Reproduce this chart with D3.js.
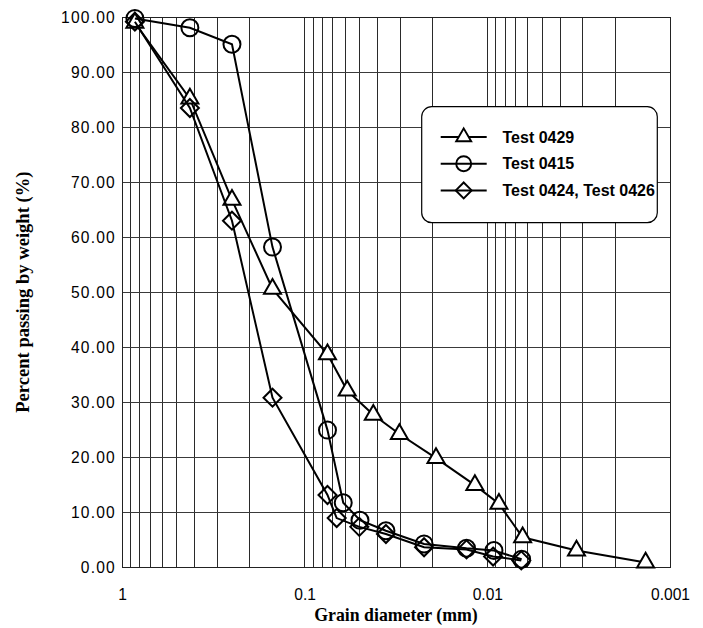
<!DOCTYPE html>
<html>
<head>
<meta charset="utf-8">
<script src="https://cdn.jsdelivr.net/npm/d3@7"></script>
<style>
  html, body { margin: 0; padding: 0; background: #fff; }
  svg { display: block; }
</style>
</head>
<body>
<svg id="chart" width="703" height="628"></svg>
<script>
// Grain-size distribution curves (percent passing vs. grain diameter)

// Test 0429
const test0429Diam = [0.85, 0.425, 0.25, 0.15, 0.075, 0.0585, 0.0421, 0.0303, 0.0191, 0.0117, 0.00864, 0.00641, 0.00325, 0.00136];
const test0429Pass = [99.0, 85.2, 66.8, 50.6, 38.7, 32.1, 27.7, 24.2, 19.8, 14.9, 11.5, 5.4, 3.0, 0.8];

// Test 0415
const test0415Diam = [0.85, 0.425, 0.25, 0.15, 0.075, 0.0615, 0.0498, 0.0359, 0.0222, 0.0130, 0.0092, 0.00649];
const test0415Pass = [99.8, 98.1, 95.1, 58.2, 24.9, 11.7, 8.5, 6.6, 4.2, 3.4, 3.0, 1.4];

// Test 0424, Test 0426
const test0424Diam = [0.85, 0.425, 0.25, 0.15, 0.075, 0.0668, 0.0502, 0.0359, 0.0222, 0.0130, 0.0093, 0.00652];
const test0424Pass = [99.2, 83.5, 63.0, 30.8, 13.1, 8.9, 7.3, 6.0, 3.6, 3.2, 1.9, 1.2];

const seriesNames = ["Test 0429", "Test 0415", "Test 0424, Test 0426"];
const xTickValues = [1, 0.1, 0.01, 0.001];
const xTickLabels = ["1", "0.1", "0.01", "0.001"];
const yTickValues = [0, 10, 20, 30, 40, 50, 60, 70, 80, 90, 100];

const svg = d3.select("#chart");
const plotL = 122, plotR = 670, plotT = 17.3, plotB = 567;

const x = d3.scaleLog().domain([1, 0.001]).range([plotL, plotR]);
const y = d3.scaleLinear().domain([0, 100]).range([plotB, plotT]);

// Grid
const grid = svg.append("g").attr("shape-rendering", "crispEdges");
grid.selectAll("line.v").data(x.ticks()).join("line")
  .attr("class", "v")
  .attr("x1", d => x(d)).attr("x2", d => x(d))
  .attr("y1", plotT).attr("y2", plotB)
  .attr("stroke", "#2a2a2a").attr("stroke-width", 1);
grid.selectAll("line.h").data(yTickValues).join("line")
  .attr("class", "h")
  .attr("x1", plotL).attr("x2", plotR)
  .attr("y1", d => y(d)).attr("y2", d => y(d))
  .attr("stroke", "#3a3a3a").attr("stroke-width", 1);

// Frame
grid.append("rect")
  .attr("x", plotL).attr("y", plotT)
  .attr("width", plotR - plotL).attr("height", plotB - plotT)
  .attr("fill", "none").attr("stroke", "#222").attr("stroke-width", 1);

// Axes (labels only; grid draws the lines)
const xAxis = d3.axisBottom(x).tickValues(xTickValues)
  .tickFormat((d, i) => xTickLabels[i]).tickSize(0).tickPadding(22);
const gx = svg.append("g").attr("transform", `translate(0,${plotB})`).call(xAxis);
gx.select(".domain").remove();
gx.selectAll("text")
  .attr("font-family", "Liberation Sans, Arial, sans-serif")
  .attr("font-size", 15.6).attr("fill", "#000");

const yAxis = d3.axisLeft(y).tickValues(yTickValues)
  .tickFormat(d3.format(".2f")).tickSize(0).tickPadding(6);
const gy = svg.append("g").attr("transform", `translate(${plotL},0)`).call(yAxis);
gy.select(".domain").remove();
gy.selectAll("text")
  .attr("font-family", "Liberation Sans, Arial, sans-serif")
  .attr("font-size", 15.6).attr("letter-spacing", 1.2).attr("fill", "#000");

// Axis titles
svg.append("text")
  .attr("x", (plotL + plotR) / 2).attr("y", 621)
  .attr("text-anchor", "middle")
  .attr("font-family", "Liberation Serif, Times New Roman, serif")
  .attr("font-weight", "bold").attr("font-size", 17.8)
  .text("Grain diameter (mm)");
svg.append("text")
  .attr("transform", `translate(29,${(plotT + plotB) / 2}) rotate(-90)`)
  .attr("text-anchor", "middle")
  .attr("font-family", "Liberation Serif, Times New Roman, serif")
  .attr("font-weight", "bold").attr("font-size", 18.6)
  .text("Percent passing by weight (%)");

// Marker shapes
const triPath = d3.symbol().type(d3.symbolTriangle).size(125)();
const circPath = d3.symbol().type(d3.symbolCircle).size(227)();
const diaPath = "M0,-9L9,0L0,9L-9,0Z";

const series = [
  { name: seriesNames[0], diam: test0429Diam, pass: test0429Pass, marker: triPath, fill: "#fff" },
  { name: seriesNames[1], diam: test0415Diam, pass: test0415Pass, marker: circPath, fill: "none" },
  { name: seriesNames[2], diam: test0424Diam, pass: test0424Pass, marker: diaPath, fill: "none" }
];

const line = d3.line().x(d => x(d[0])).y(d => y(d[1]));

series.forEach(s => {
  const pts = s.diam.map((d, i) => [d, s.pass[i]]);
  const g = svg.append("g");
  g.append("path").datum(pts)
    .attr("d", line).attr("fill", "none")
    .attr("stroke", "#000").attr("stroke-width", 2);
  g.selectAll("path.m").data(pts).join("path")
    .attr("class", "m")
    .attr("d", s.marker)
    .attr("transform", d => `translate(${x(d[0])},${y(d[1])})`)
    .attr("fill", s.fill).attr("stroke", "#000").attr("stroke-width", 2);
});

// Legend
const lg = svg.append("g");
lg.append("rect")
  .attr("x", 421.7).attr("y", 106.7).attr("width", 235.6).attr("height", 116)
  .attr("rx", 10).attr("ry", 10)
  .attr("fill", "#fff").attr("stroke", "#000").attr("stroke-width", 1.2);
series.forEach((s, i) => {
  const ry = 137 + i * 26.7;
  lg.append("line")
    .attr("x1", 440.7).attr("x2", 486.7).attr("y1", ry).attr("y2", ry)
    .attr("stroke", "#000").attr("stroke-width", 2);
  lg.append("path")
    .attr("d", s.marker)
    .attr("transform", `translate(463.7,${ry}) scale(0.88)`)
    .attr("fill", s.fill).attr("stroke", "#000").attr("stroke-width", 2.2);
  lg.append("text")
    .attr("x", 502.5).attr("y", ry + 5.7)
    .attr("font-family", "Liberation Sans, Arial, sans-serif")
    .attr("font-weight", "bold").attr("font-size", 16)
    .text(s.name);
});
</script>
</body>
</html>
